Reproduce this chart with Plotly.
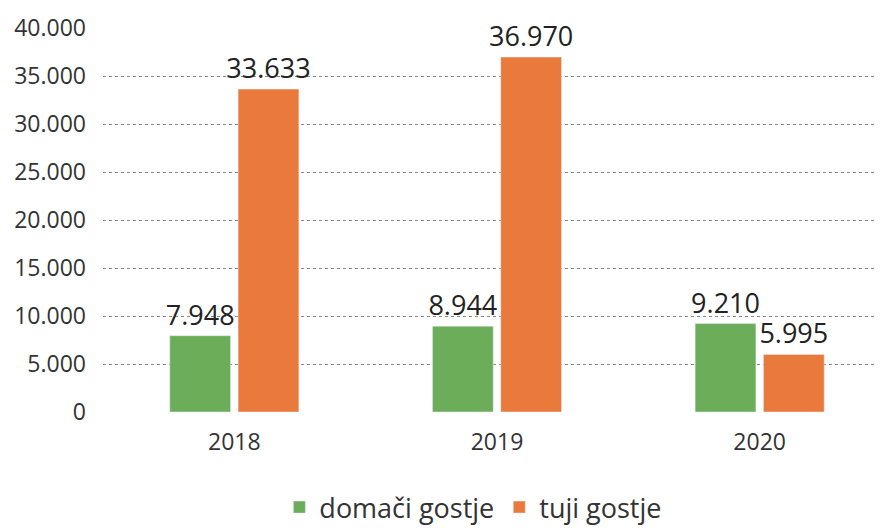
import plotly.graph_objects as go

years = ['2018', '2019', '2020']
domaci = [7948, 8944, 9210]
tuji = [33633, 36970, 5995]
y_ticks = [0, 5000, 10000, 15000, 20000, 25000, 30000, 35000, 40000]

green = '#6CAD5A'
orange = '#E97A3C'

fig = go.Figure()
fig.add_trace(go.Bar(
    x=years, y=domaci, name='domači gostje',
    marker_color=green,
    texttemplate='%{y:,}', textposition='outside', constraintext='none',
    textfont=dict(size=27, color='#222'),
    cliponaxis=False,
))
fig.add_trace(go.Bar(
    x=years, y=tuji, name='tuji gostje',
    marker_color=orange,
    texttemplate='%{y:,}', textposition='outside', constraintext='none',
    textfont=dict(size=27, color='#222'),
    cliponaxis=False,
))

fig.update_layout(
    width=883, height=528,
    margin=dict(l=95, r=0, t=20, b=124),
    separators=',.',
    font=dict(family='Open Sans, Liberation Sans, sans-serif', color='#333', size=22),
    plot_bgcolor='white', paper_bgcolor='white',
    barmode='group', bargap=0.48, bargroupgap=0.11,
    showlegend=True,
    legend=dict(orientation='h', x=0.47, xanchor='center', y=-0.185, yanchor='top',
                font=dict(size=27, color='#333'), itemwidth=30),
)
fig.update_yaxes(
    range=[0, 40000], tickvals=y_ticks, tickformat=',',
    showgrid=True, gridcolor='#888', griddash='dot', gridwidth=1,
    zeroline=False,
    ticks='', ticklabelstandoff=16, tickfont=dict(size=23, color='#333'),
)
fig.update_xaxes(
    showline=False, ticks='', tickfont=dict(size=23, color='#333'),
    ticklabelstandoff=14,
)

fig.write_html('out.html')
